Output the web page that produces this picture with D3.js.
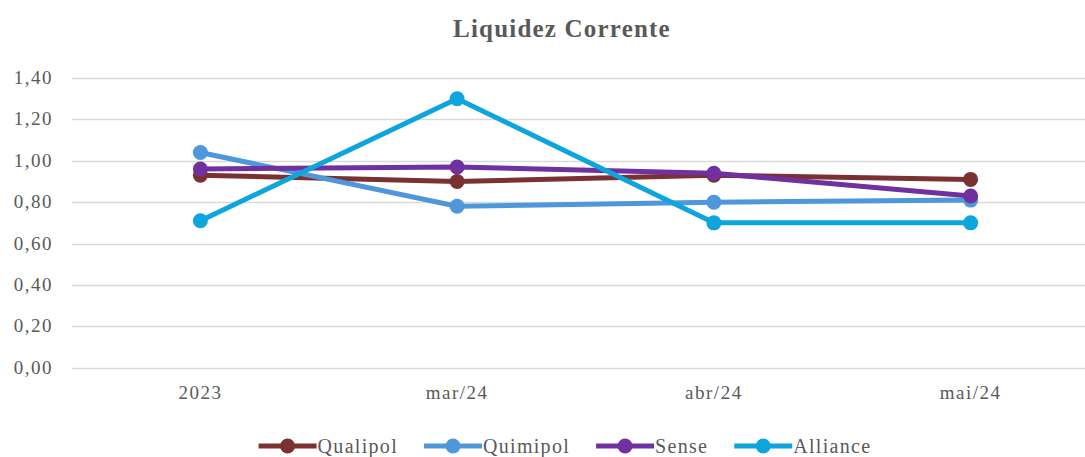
<!DOCTYPE html>
<html>
<head>
<meta charset="utf-8">
<script src="https://cdn.jsdelivr.net/npm/d3@7"></script>
<style>
  body { margin: 0; background: #fff; }
  svg { display: block; font-family: "Liberation Serif", "DejaVu Serif", serif; }
</style>
</head>
<body>
<svg id="chart" width="1085" height="457"></svg>
<script>
// chart data
const categories = ["2023", "mar/24", "abr/24", "mai/24"];
const seriesNames = ["Qualipol", "Quimipol", "Sense", "Alliance"];
const qualipol = [0.93, 0.90, 0.93, 0.91];
const quimipol = [1.04, 0.78, 0.80, 0.81];
const sense = [0.96, 0.97, 0.94, 0.83];
const alliance = [0.71, 1.30, 0.70, 0.70];
const yTicks = [0, 0.2, 0.4, 0.6, 0.8, 1.0, 1.2, 1.4];

const colors = ["#7b3032", "#4f97db", "#7030a0", "#0ea5dc"];
const seriesValues = [qualipol, quimipol, sense, alliance];

const svg = d3.select("#chart");
const width = 1085, height = 457;
const margin = {top: 78, left: 72, bottom: 89};

const x = d3.scaleBand()
  .domain(categories)
  .range([margin.left, 1099]);

const y = d3.scaleLinear()
  .domain([0, 1.4])
  .range([height - margin.bottom - 0.3, margin.top]);

const fmt = v => d3.format(".2f")(v).replace(".", ",");

// title
svg.append("text")
  .attr("x", 562)
  .attr("y", 37)
  .attr("text-anchor", "middle")
  .attr("font-size", 25)
  .attr("font-weight", "bold")
  .attr("letter-spacing", 1.2)
  .attr("fill", "#595959")
  .text("Liquidez Corrente");

// gridlines
svg.append("g")
  .selectAll("line")
  .data(yTicks)
  .join("line")
  .attr("x1", margin.left)
  .attr("x2", width)
  .attr("y1", d => Math.round(y(d)) + 0.5)
  .attr("y2", d => Math.round(y(d)) + 0.5)
  .attr("stroke", "#d9d9d9")
  .attr("stroke-width", 1.5);

// y labels
svg.append("g")
  .selectAll("text")
  .data(yTicks)
  .join("text")
  .attr("x", 53)
  .attr("y", d => y(d) + 6)
  .attr("text-anchor", "end")
  .attr("font-size", 19)
  .attr("letter-spacing", 1.5)
  .attr("fill", "#595959")
  .text(fmt);

// x labels
svg.append("g")
  .selectAll("text")
  .data(categories)
  .join("text")
  .attr("x", d => x(d) + x.bandwidth() / 2)
  .attr("y", 399)
  .attr("text-anchor", "middle")
  .attr("font-size", 19)
  .attr("letter-spacing", 1.5)
  .attr("fill", "#595959")
  .text(d => d);

const cx = (d, i) => x(categories[i]) + x.bandwidth() / 2;
const line = d3.line()
  .x(cx)
  .y(d => y(d));

// series lines and markers
const series = svg.append("g")
  .selectAll("g")
  .data(seriesValues)
  .join("g");

series.append("path")
  .attr("d", d => line(d))
  .attr("fill", "none")
  .attr("stroke", (d, i) => colors[i])
  .attr("stroke-width", 5)
  .attr("stroke-linejoin", "round");

series.each(function(vals, si) {
  d3.select(this).selectAll("circle")
    .data(vals)
    .join("circle")
    .attr("cx", cx)
    .attr("cy", d => y(d))
    .attr("r", 7.5)
    .attr("fill", colors[si]);
});

// legend
const legend = svg.append("g");
const items = legend.selectAll("g")
  .data(seriesNames)
  .join("g");

items.append("line")
  .attr("x1", 0).attr("x2", 58)
  .attr("y1", 0).attr("y2", 0)
  .attr("stroke", (d, i) => colors[i])
  .attr("stroke-width", 5);
items.append("circle")
  .attr("cx", 29).attr("cy", 0).attr("r", 7.5)
  .attr("fill", (d, i) => colors[i]);
items.append("text")
  .attr("x", 59)
  .attr("y", 7)
  .attr("font-size", 20)
  .attr("letter-spacing", 1.3)
  .attr("fill", "#595959")
  .text(d => d);

// lay out legend items from measured widths
let pos = 0;
const offsets = [];
items.each(function() {
  offsets.push(pos);
  pos += this.getBBox().width + 26;
});
const total = pos - 26;
const startX = 565 - total / 2;
items.attr("transform", (d, i) => `translate(${startX + offsets[i]},446)`);
</script>
</body>
</html>
